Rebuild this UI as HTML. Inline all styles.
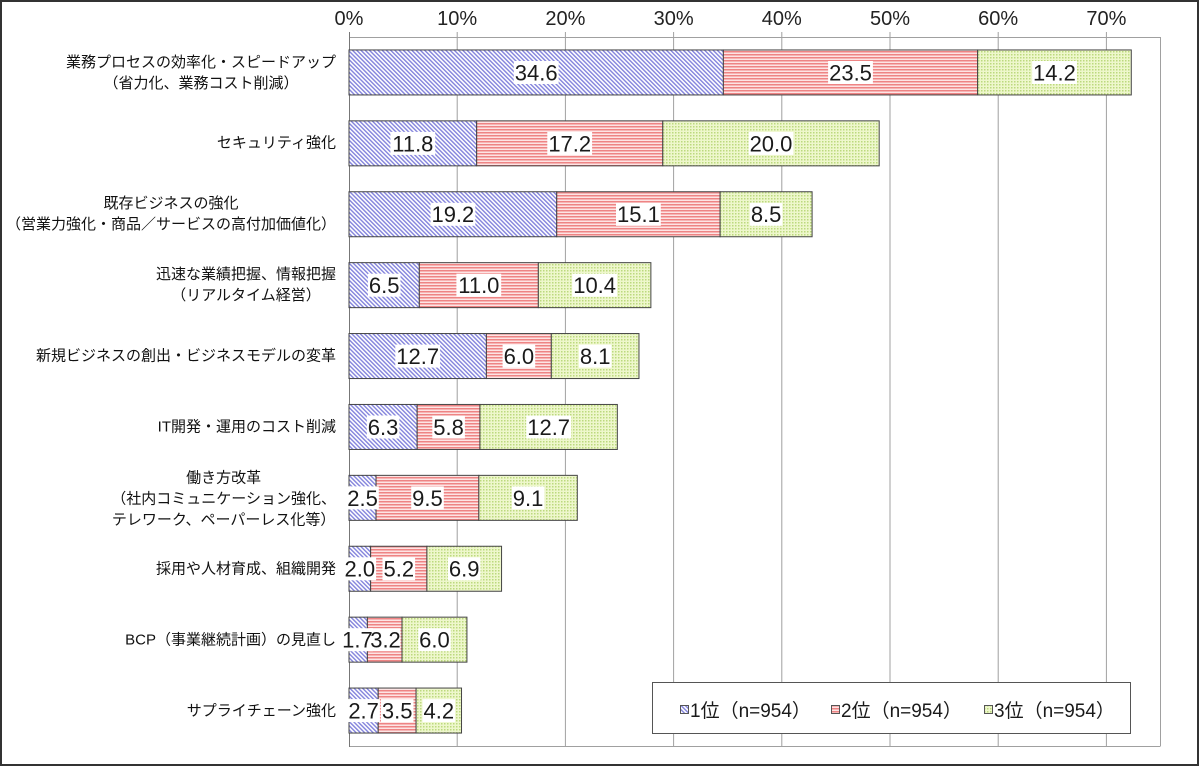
<!DOCTYPE html>
<html><head><meta charset="utf-8">
<style>
html,body{margin:0;padding:0;background:#fff;}
#w{position:relative;width:1200px;height:767px;overflow:hidden;font-family:"Liberation Sans","Noto Sans CJK JP",sans-serif;}
svg{position:absolute;left:0;top:0;}
.c{position:absolute;right:864px;transform:translateY(-50%);text-align:center;white-space:nowrap;font-size:15px;line-height:21px;color:#111;font-family:"Liberation Sans","Noto Sans CJK JP",sans-serif;}
</style></head><body>
<div id="w">
<svg width="1200" height="767" viewBox="0 0 1200 767" xmlns="http://www.w3.org/2000/svg">
<defs>
<pattern id="pb" width="3" height="3" patternUnits="userSpaceOnUse" patternTransform="rotate(-45)"><rect width="3" height="3" fill="#fff"/><rect width="1.4" height="3" fill="#8282dc"/></pattern>
<pattern id="pr" width="3" height="3" patternUnits="userSpaceOnUse"><rect width="3" height="3" fill="#fde4e4"/><rect width="3" height="1.5" fill="#ee8484"/></pattern>
<pattern id="pg" width="3" height="3" patternUnits="userSpaceOnUse"><rect width="3" height="3" fill="#eef7cc"/><rect width="1.5" height="1.5" fill="#bcd97e"/></pattern>
</defs>
<rect x="1" y="1" width="1197" height="764" fill="#fff" stroke="#333" stroke-width="2"/>
<g stroke="#a0a0a0" stroke-width="1">
<line x1="457.2" y1="32" x2="457.2" y2="746"/>
<line x1="565.4" y1="32" x2="565.4" y2="746"/>
<line x1="673.6" y1="32" x2="673.6" y2="746"/>
<line x1="781.8" y1="32" x2="781.8" y2="746"/>
<line x1="890" y1="32" x2="890" y2="746"/>
<line x1="998.2" y1="32" x2="998.2" y2="746"/>
<line x1="1106.4" y1="32" x2="1106.4" y2="746"/>
<line x1="349" y1="37.5" x2="1160.5" y2="37.5"/>
<line x1="1160.5" y1="37" x2="1160.5" y2="746"/>
<line x1="349" y1="746.5" x2="1160.5" y2="746.5"/>
</g>
<line x1="349.5" y1="32" x2="349.5" y2="747" stroke="#777" stroke-width="1"/>
<g font-family="Liberation Sans, sans-serif" font-size="20" fill="#222" text-anchor="middle">
<text x="349" y="25">0%</text>
<text x="457.2" y="25">10%</text>
<text x="565.4" y="25">20%</text>
<text x="673.6" y="25">30%</text>
<text x="781.8" y="25">40%</text>
<text x="890" y="25">50%</text>
<text x="998.2" y="25">60%</text>
<text x="1106.4" y="25">70%</text>
</g>
<g stroke="#444" stroke-width="1">
<rect x="349" y="49.95" width="374.37" height="45" fill="url(#pb)"/>
<rect x="723.37" y="49.95" width="254.27" height="45" fill="url(#pr)"/>
<rect x="977.64" y="49.95" width="153.64" height="45" fill="url(#pg)"/>

<rect x="349" y="120.85" width="127.68" height="45" fill="url(#pb)"/>
<rect x="476.68" y="120.85" width="186.1" height="45" fill="url(#pr)"/>
<rect x="662.78" y="120.85" width="216.4" height="45" fill="url(#pg)"/>

<rect x="349" y="191.75" width="207.74" height="45" fill="url(#pb)"/>
<rect x="556.74" y="191.75" width="163.38" height="45" fill="url(#pr)"/>
<rect x="720.12" y="191.75" width="91.97" height="45" fill="url(#pg)"/>

<rect x="349" y="262.65" width="70.33" height="45" fill="url(#pb)"/>
<rect x="419.33" y="262.65" width="119.02" height="45" fill="url(#pr)"/>
<rect x="538.35" y="262.65" width="112.53" height="45" fill="url(#pg)"/>

<rect x="349" y="333.55" width="137.41" height="45" fill="url(#pb)"/>
<rect x="486.41" y="333.55" width="64.92" height="45" fill="url(#pr)"/>
<rect x="551.33" y="333.55" width="87.64" height="45" fill="url(#pg)"/>

<rect x="349" y="404.45" width="68.17" height="45" fill="url(#pb)"/>
<rect x="417.17" y="404.45" width="62.76" height="45" fill="url(#pr)"/>
<rect x="479.93" y="404.45" width="137.41" height="45" fill="url(#pg)"/>

<rect x="349" y="475.35" width="27.05" height="45" fill="url(#pb)"/>
<rect x="376.05" y="475.35" width="102.79" height="45" fill="url(#pr)"/>
<rect x="478.84" y="475.35" width="98.46" height="45" fill="url(#pg)"/>

<rect x="349" y="546.25" width="21.64" height="45" fill="url(#pb)"/>
<rect x="370.64" y="546.25" width="56.26" height="45" fill="url(#pr)"/>
<rect x="426.9" y="546.25" width="74.66" height="45" fill="url(#pg)"/>

<rect x="349" y="617.15" width="18.39" height="45" fill="url(#pb)"/>
<rect x="367.39" y="617.15" width="34.62" height="45" fill="url(#pr)"/>
<rect x="402.01" y="617.15" width="64.92" height="45" fill="url(#pg)"/>

<rect x="349" y="688.05" width="29.21" height="45" fill="url(#pb)"/>
<rect x="378.21" y="688.05" width="37.87" height="45" fill="url(#pr)"/>
<rect x="416.08" y="688.05" width="45.44" height="45" fill="url(#pg)"/>
</g>
<g fill="#fff">
<rect x="513.8" y="61" width="44.8" height="23"/>
<rect x="828.1" y="61" width="44.8" height="23"/>
<rect x="1032.1" y="61" width="44.8" height="23"/>

<rect x="390.4" y="131.9" width="44.8" height="23"/>
<rect x="547.3" y="131.9" width="44.8" height="23"/>
<rect x="748.6" y="131.9" width="44.8" height="23"/>

<rect x="430.5" y="202.8" width="44.8" height="23"/>
<rect x="616" y="202.8" width="44.8" height="23"/>
<rect x="749.8" y="202.8" width="32.6" height="23"/>

<rect x="367.9" y="273.7" width="32.6" height="23"/>
<rect x="456.4" y="273.7" width="44.8" height="23"/>
<rect x="572.2" y="273.7" width="44.8" height="23"/>

<rect x="395.3" y="344.6" width="44.8" height="23"/>
<rect x="502.6" y="344.6" width="32.6" height="23"/>
<rect x="578.9" y="344.6" width="32.6" height="23"/>

<rect x="366.8" y="415.5" width="32.6" height="23"/>
<rect x="432.3" y="415.5" width="32.6" height="23"/>
<rect x="526.2" y="415.5" width="44.8" height="23"/>

<rect x="346.2" y="486.4" width="32.6" height="23"/>
<rect x="411.2" y="486.4" width="32.6" height="23"/>
<rect x="511.8" y="486.4" width="32.6" height="23"/>

<rect x="343.5" y="557.3" width="32.6" height="23"/>
<rect x="382.5" y="557.3" width="32.6" height="23"/>
<rect x="447.9" y="557.3" width="32.6" height="23"/>

<rect x="341.9" y="628.2" width="31" height="23"/>
<rect x="369.4" y="628.2" width="31" height="23"/>
<rect x="418.2" y="628.2" width="32.6" height="23"/>

<rect x="347.3" y="699.1" width="32.6" height="23"/>
<rect x="380.9" y="699.1" width="32.6" height="23"/>
<rect x="422.5" y="699.1" width="32.6" height="23"/>
</g>
<g font-family="Liberation Sans, sans-serif" font-size="22" fill="#1a1a1a" text-anchor="middle">
<text x="536.19" y="80.4">34.6</text>
<text x="850.51" y="80.4">23.5</text>
<text x="1054.46" y="80.4">14.2</text>

<text x="412.84" y="151.3">11.8</text>
<text x="569.73" y="151.3">17.2</text>
<text x="770.98" y="151.3">20.0</text>

<text x="452.87" y="222.2">19.2</text>
<text x="638.43" y="222.2">15.1</text>
<text x="766.11" y="222.2">8.5</text>

<text x="384.17" y="293.1">6.5</text>
<text x="478.84" y="293.1">11.0</text>
<text x="594.62" y="293.1">10.4</text>

<text x="417.71" y="364">12.7</text>
<text x="518.87" y="364">6.0</text>
<text x="595.15" y="364">8.1</text>

<text x="383.08" y="434.9">6.3</text>
<text x="448.55" y="434.9">5.8</text>
<text x="548.64" y="434.9">12.7</text>

<text x="362.53" y="505.8">2.5</text>
<text x="427.45" y="505.8">9.5</text>
<text x="528.07" y="505.8">9.1</text>

<text x="359.82" y="576.7">2.0</text>
<text x="398.77" y="576.7">5.2</text>
<text x="464.23" y="576.7">6.9</text>

<text x="357.4" y="647.6">1.7</text>
<text x="385.5" y="647.6">3.2</text>
<text x="434.47" y="647.6">6.0</text>

<text x="363.61" y="718.5">2.7</text>
<text x="397.15" y="718.5">3.5</text>
<text x="438.8" y="718.5">4.2</text>
</g>
<rect x="652.5" y="682.5" width="478" height="51" fill="#fff" stroke="#555" stroke-width="1"/>
<rect x="680.5" y="705.5" width="8" height="8" fill="url(#pb)" stroke="#555" stroke-width="1"/>
<rect x="831.5" y="705.5" width="8" height="8" fill="url(#pr)" stroke="#555" stroke-width="1"/>
<rect x="984.5" y="705.5" width="8" height="8" fill="url(#pg)" stroke="#555" stroke-width="1"/>
<g font-family="Liberation Sans, Noto Sans CJK JP, sans-serif" font-size="19" fill="#1a1a1a">
<text x="690" y="717">1位（n=954）</text>
<text x="841" y="717">2位（n=954）</text>
<text x="994" y="717">3位（n=954）</text>
</g>
</svg>
<div class="c" style="top:72.5px">業務プロセスの効率化・スピードアップ<br>（省力化、業務コスト削減）</div>
<div class="c" style="top:143.4px">セキュリティ強化</div>
<div class="c" style="top:214.3px">既存ビジネスの強化<br>（営業力強化・商品／サービスの高付加価値化）</div>
<div class="c" style="top:285.2px">迅速な業績把握、情報把握<br>（リアルタイム経営）</div>
<div class="c" style="top:356.1px">新規ビジネスの創出・ビジネスモデルの変革</div>
<div class="c" style="top:427px">IT開発・運用のコスト削減</div>
<div class="c" style="top:498.9px">働き方改革<br>（社内コミュニケーション強化、<br>テレワーク、ペーパーレス化等）</div>
<div class="c" style="top:568.8px">採用や人材育成、組織開発</div>
<div class="c" style="top:639.7px">BCP（事業継続計画）の見直し</div>
<div class="c" style="top:710.6px">サプライチェーン強化</div>
</div>
</body></html>
